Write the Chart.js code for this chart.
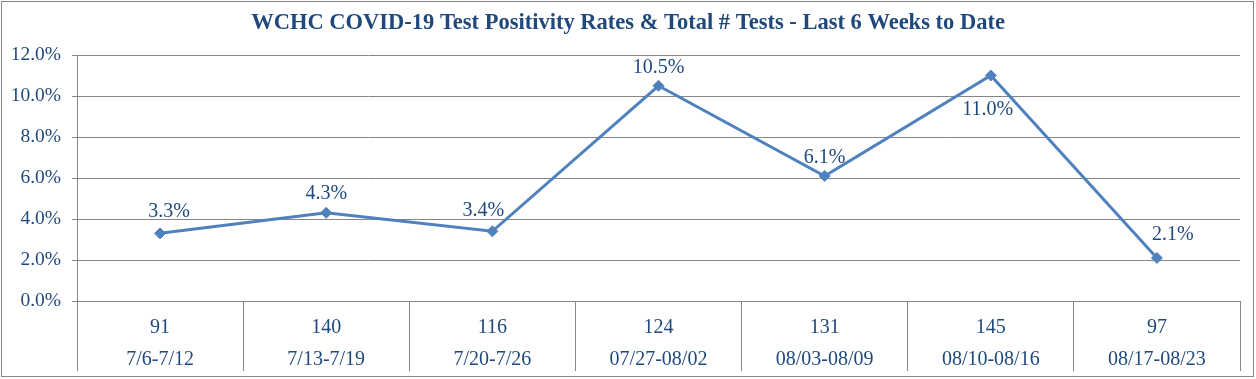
<!DOCTYPE html>
<html>
<head>
<meta charset="utf-8">
<script src="https://cdn.jsdelivr.net/npm/chart.js@4/dist/chart.umd.min.js"></script>
<style>
  html, body { margin: 0; padding: 0; background: #fff; }
  #wrap { position: relative; width: 1256px; height: 379px; }
  #frame { position: absolute; left: 1px; top: 1px; width: 1253px; height: 376px; border: 1px solid #868686; box-sizing: border-box; pointer-events: none; }
  canvas { display: block; }
</style>
</head>
<body>
<div id="wrap">
  <canvas id="c" width="1256" height="379"></canvas>
  <div id="frame"></div>
</div>
<script>
const titleText = 'WCHC COVID-19 Test Positivity Rates & Total # Tests - Last 6 Weeks to Date';
const weeks = ['7/6-7/12', '7/13-7/19', '7/20-7/26', '07/27-08/02', '08/03-08/09', '08/10-08/16', '08/17-08/23'];
const totalTests = [91, 140, 116, 124, 131, 145, 97];
const positivityRate = [3.3, 4.3, 3.4, 10.5, 6.1, 11.0, 2.1];
const yTicks = [0, 2, 4, 6, 8, 10, 12];

// label placement offsets (styling only)
const labelOffsets = [[9, -22], [0, -19], [-9, -21], [0, -18], [0, -18], [-3, 34], [16, -23]];

const labels = weeks.map((w, i) => [String(totalTests[i]), w]);
const textBlue = '#1F497D';
const lineBlue = '#4F81BD';
const gridGray = '#868686';
const serif = "'Liberation Serif', 'DejaVu Serif', serif";

const titlePlugin = {
  id: 'titleText',
  afterDraw(chart) {
    const ctx = chart.ctx;
    ctx.save();
    ctx.font = 'bold 22.5px ' + serif;
    ctx.fillStyle = textBlue;
    ctx.textAlign = 'center';
    ctx.textBaseline = 'middle';
    ctx.fillText(titleText, 628, 23);
    ctx.restore();
  }
};

const dataLabelPlugin = {
  id: 'dataLabels',
  afterDatasetsDraw(chart) {
    const ctx = chart.ctx;
    const meta = chart.getDatasetMeta(0);
    ctx.save();
    ctx.font = '20px ' + serif;
    ctx.fillStyle = textBlue;
    ctx.textAlign = 'center';
    ctx.textBaseline = 'middle';
    meta.data.forEach((pt, i) => {
      const v = chart.data.datasets[0].data[i];
      const o = labelOffsets[i];
      ctx.fillText(v.toFixed(1) + '%', pt.x + o[0], pt.y + o[1]);
    });
    ctx.restore();
  }
};

new Chart(document.getElementById('c'), {
  type: 'line',
  data: {
    labels: labels,
    datasets: [{
      data: positivityRate,
      borderColor: lineBlue,
      backgroundColor: lineBlue,
      borderWidth: 3,
      pointStyle: 'rectRot',
      pointRadius: 5.5,
      pointBorderWidth: 1,
      pointBackgroundColor: lineBlue,
      pointBorderColor: lineBlue,
      tension: 0,
      clip: false
    }]
  },
  options: {
    responsive: false,
    animation: false,
    devicePixelRatio: 1,
    layout: { padding: { top: 55, right: 16, left: 0, bottom: 8 } },
    plugins: { legend: { display: false }, tooltip: { enabled: false }, title: { display: false } },
    scales: {
      x: {
        offset: true,
        grid: {
          offset: true,
          drawOnChartArea: false,
          drawTicks: true,
          tickLength: 70,
          color: gridGray,
          lineWidth: 1
        },
        border: { display: true, color: gridGray, width: 1 },
        ticks: {
          color: textBlue,
          font: { family: serif, size: 20, lineHeight: 1.6 },
          padding: -59,
          maxRotation: 0,
          autoSkip: false
        },
        afterFit(scale) { scale.height = 70; }
      },
      y: {
        min: 0,
        max: 12,
        afterBuildTicks(scale) { scale.ticks = yTicks.map(v => ({ value: v })); },
        grid: { color: gridGray, lineWidth: 1, tickLength: 5, drawTicks: true },
        border: { display: true, color: gridGray, width: 1 },
        ticks: {
          color: textBlue,
          font: { family: serif, size: 19.5 },
          padding: 11,
          callback: v => v.toFixed(1) + '%'
        },
        afterFit(scale) { scale.width = 77; }
      }
    }
  },
  plugins: [titlePlugin, dataLabelPlugin]
});
</script>
</body>
</html>
